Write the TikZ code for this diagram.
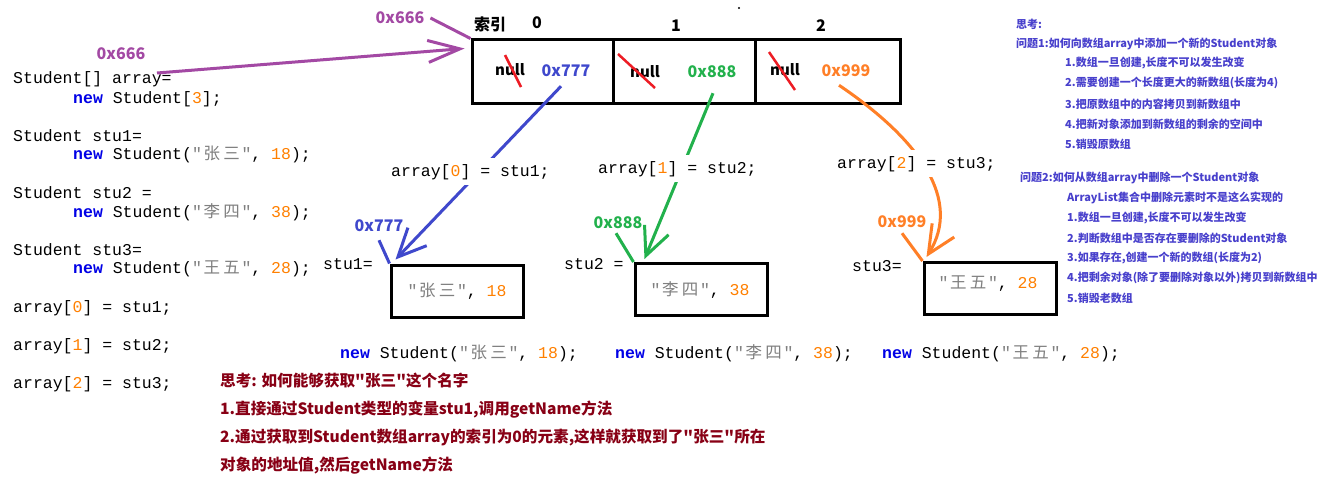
\documentclass[tikz,border=0pt]{standalone}
\usepackage{fontspec}
\setmainfont{Noto Sans CJK SC}[Ligatures=TeXOff]
\newfontfamily\cjk{Noto Sans CJK SC}
\newfontfamily\codefont{Liberation Mono}
\usetikzlibrary{arrows.meta}
\definecolor{kw}{RGB}{0,0,230}
\definecolor{num}{RGB}{255,128,0}
\definecolor{str}{RGB}{128,128,128}
\definecolor{pur}{RGB}{163,73,164}
\definecolor{blu}{RGB}{63,72,204}
\definecolor{grn}{RGB}{34,177,76}
\definecolor{org}{RGB}{255,127,39}
\definecolor{dred}{RGB}{136,0,21}
\definecolor{slashred}{RGB}{237,28,36}
\definecolor{notec}{RGB}{72,64,204}
\newcommand{\kwd}[1]{\textcolor{kw}{\textbf{#1}}}
\newcommand{\nm}[1]{\textcolor{num}{#1}}
\newcommand{\stc}[1]{\textcolor{str}{#1}}
\newcommand{\cjc}[1]{\makebox[19.8pt]{\cjk #1}}
\tikzset{
  code/.style={font=\codefont\fontsize{16.5}{18}\selectfont, inner sep=0pt, anchor=base west},
  masklbl/.style={code, fill=white, inner xsep=2pt, inner ysep=6pt},
  lbl/.style={font=\bfseries\fontsize{16}{18}\selectfont, inner sep=0pt},
  nulltxt/.style={font=\bfseries\fontsize{15}{17}\selectfont, inner sep=0pt},
  notetxt/.style={font=\bfseries\fontsize{11}{13}\selectfont, text=notec, inner sep=0pt, anchor=west},
  think/.style={font=\bfseries\fontsize{15.6}{17}\selectfont, text=dred, inner sep=0pt, anchor=west},
  cell/.style={draw, line width=3pt, minimum height=63pt, inner sep=0pt},
  obox/.style={draw, line width=3pt, minimum width=132pt, minimum height=52pt, inner sep=0pt},
  tick/.style={line width=3pt},
  arr/.style={line width=3pt, -{Straight Barb[length=28pt,width=26pt]}},
  slashline/.style={line width=2.5pt, slashred},
}
\begin{document}
\begin{tikzpicture}[x=1pt,y=-1pt]
\fill[white] (0,0) rectangle (1327,503);
\useasboundingbox (0,0) rectangle (1327,503);

% array cells
\node[cell, minimum width=141pt] (c0) at (542.5,71.5) {};
\node[cell, minimum width=142pt] (c1) at (684,71.5) {};
\node[cell, minimum width=145pt] (c2) at (827.5,71.5) {};

% index labels
\node[lbl] (idx) at (490,24) {索引};
\node[lbl] (i0) at (537,23) {0};
\node[lbl] (i1) at (676,26) {1};
\node[lbl] (i2) at (821,26) {2};
\fill (739,8) circle (1.2);

% cell contents
\node[nulltxt] (n0) at (510,70) {null};
\node[nulltxt] (n1) at (645,72) {null};
\node[nulltxt] (n2) at (785,70) {null};
\draw[slashline] (505,55) -- (521,87);
\draw[slashline] (618,54) -- (655,88);
\draw[slashline] (769,52) -- (795,90);
\node[lbl, text=blu] (v0) at (566,71) {0x777};
\node[lbl, text=grn] (v1) at (712,72) {0x888};
\node[lbl, text=org] (v2) at (846,71) {0x999};

% address labels
\node[lbl, text=pur] (p1) at (400,18) {0x666};
\node[lbl, text=pur] (p2) at (121,54) {0x666};
\node[lbl, text=blu] (b1) at (379,226) {0x777};
\node[lbl, text=grn] (b2) at (618,223) {0x888};
\node[lbl, text=org] (b3) at (902,222) {0x999};

% left code
\node[code] (L1) at (13,84) {Student[] array=};
\node[code] (L2) at (73,103) {\kwd{new} Student[\nm{3}];};
\node[code] (L3) at (13,141) {Student stu1=};
\node[code] (L4) at (73,159) {\kwd{new} Student(\stc{"\cjc{张}\cjc{三}"}, \nm{18});};
\node[code] (L5) at (13,198) {Student stu2 =};
\node[code] (L6) at (73,217) {\kwd{new} Student(\stc{"\cjc{李}\cjc{四}"}, \nm{38});};
\node[code] (L7) at (13,255) {Student stu3=};
\node[code] (L8) at (73,273) {\kwd{new} Student(\stc{"\cjc{王}\cjc{五}"}, \nm{28});};
\node[code] (L9) at (13,312) {array[\nm{0}] = stu1;};
\node[code] (L10) at (13,350) {array[\nm{1}] = stu2;};
\node[code] (L11) at (13,388) {array[\nm{2}] = stu3;};
\coordinate (ps) at (157,73);

% object boxes
\node[obox] (s1) at (457,291) {};
\node[obox] (s2) at (701,289.5) {};
\node[obox] (s3) at (990,288.5) {};
\node[code, anchor=center] (t1) at (457,291) {\stc{"\cjc{张}\cjc{三}"}, \nm{18}};
\node[code, anchor=center] (t2) at (700,290) {\stc{"\cjc{李}\cjc{四}"}, \nm{38}};
\node[code, anchor=center] (t3) at (988,284) {\stc{"\cjc{王}\cjc{五}"}, \nm{28}};
\node[code] (q1) at (323,269) {stu1=};
\node[code] (q2) at (564,269) {stu2 =};
\node[code] (q3) at (852,271) {stu3=};
\node[code] (w1) at (340,358) {\kwd{new} Student(\stc{"\cjc{张}\cjc{三}"}, \nm{18});};
\node[code] (w2) at (615,358) {\kwd{new} Student(\stc{"\cjc{李}\cjc{四}"}, \nm{38});};
\node[code] (w3) at (882,358) {\kwd{new} Student(\stc{"\cjc{王}\cjc{五}"}, \nm{28});};

% connectors
\draw[tick, pur] ([xshift=6pt]p1.east) -- (c0.north west);
\draw[pur, line width=3pt, -{Straight Barb[length=32pt,width=22pt]}] (ps) -- ([xshift=-6pt,yshift=-10pt]c0.north west);
\draw[tick, blu] ([yshift=-8pt]b1.south) -- (s1.north west);
\draw[tick, grn] ([xshift=-2pt,yshift=-4pt]b2.south) -- (s2.north west);
\draw[tick, org] ([yshift=-5pt]b3.south) -- (s3.north west);
\draw[arr, blu] ([xshift=-5pt,yshift=-9pt]v0.south) -- ([xshift=6pt,yshift=4pt]s1.north west);
\draw[arr, grn] ([xshift=1pt,yshift=-15pt]v1.south) -- ([xshift=11pt,yshift=3pt]s2.north west);
\draw[arr, org] ([xshift=-7pt,yshift=-8pt]v2.south) .. controls (920,140) and (962,200) .. ([xshift=4pt,yshift=4pt]s3.north west);

% masking labels on the connectors
\node[masklbl] (a0) at (389,176) {array[\nm{0}] = stu1;};
\node[masklbl] (a1) at (596,173) {array[\nm{1}] = stu2;};
\node[masklbl] (a2) at (835,168) {array[\nm{2}] = stu3;};

% right notes
\node[notetxt] (r0) at (1016,24) {思考:};
\node[notetxt] (r1) at (1016,44) {问题1:如何向数组array中添加一个新的Student对象};
\node[notetxt] (r2) at (1065,63) {1.数组一旦创建,长度不可以发生改变};
\node[notetxt] (r3) at (1065,83) {2.需要创建一个长度更大的新数组(长度为4)};
\node[notetxt] (r4) at (1065,104) {3.把原数组中的内容拷贝到新数组中};
\node[notetxt] (r5) at (1065,124) {4.把新对象添加到新数组的剩余的空间中};
\node[notetxt] (r6) at (1065,144) {5.销毁原数组};
\node[notetxt] (r7) at (1020,178) {问题2:如何从数组array中删除一个Student对象};
\node[notetxt] (r8) at (1067,198) {ArrayList集合中删除元素时不是这么实现的};
\node[notetxt] (r9) at (1067,218) {1.数组一旦创建,长度不可以发生改变};
\node[notetxt] (r10) at (1067,238) {2.判断数组中是否存在要删除的Student对象};
\node[notetxt] (r11) at (1067,258) {3.如果存在,创建一个新的数组(长度为2)};
\node[notetxt] (r12) at (1067,278) {4.把剩余对象(除了要删除对象以外)拷贝到新数组中};
\node[notetxt] (r13) at (1067,298) {5.销毁老数组};

% bottom thinking
\node[think] (k0) at (220,381) {思考: 如何能够获取"张三"这个名字};
\node[think] (k1) at (220,410) {1.直接通过Student类型的变量stu1,调用getName方法};
\node[think] (k2) at (220,438) {2.通过获取到Student数组array的索引为0的元素,这样就获取到了"张三"所在};
\node[think] (k3) at (220,466) {对象的地址值,然后getName方法};
\end{tikzpicture}
\end{document}
